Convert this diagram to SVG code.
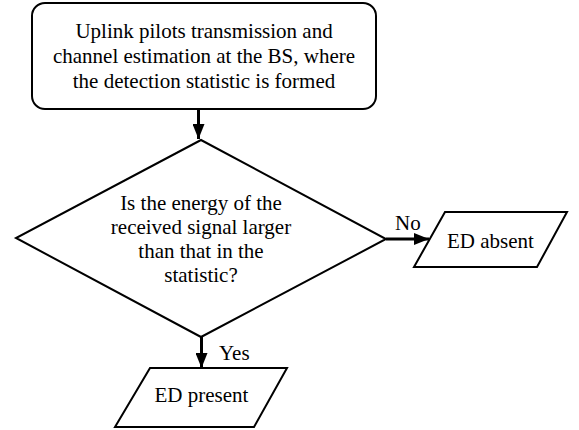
<svg xmlns="http://www.w3.org/2000/svg" width="579" height="430" viewBox="0 0 579 430">
  <style>
    .shape { fill: #ffffff; stroke: #000000; stroke-width: 2; stroke-linejoin: miter; }
    .label { font-family: "Liberation Serif", "Times New Roman", "DejaVu Serif", serif; font-size: 21px; fill: #000000; text-anchor: middle; }
    .edge-label { font-family: "Liberation Serif", "Times New Roman", "DejaVu Serif", serif; font-size: 21px; fill: #000000; }
    .edge { fill: none; stroke: #000000; stroke-width: 3; }
  </style>
  <defs>
    <marker id="arrow" markerWidth="5" markerHeight="4" refX="5" refY="2" orient="auto" markerUnits="strokeWidth">
      <path d="M0,0 L5,2 L0,4 Z" fill="#000000"/>
    </marker>
  </defs>
  <rect width="579" height="430" fill="#ffffff"/>

  <!-- flow arrows and branch labels -->
  <g id="connectors">
    <line class="edge" x1="198.5" y1="110" x2="198.5" y2="139" marker-end="url(#arrow)"/>
    <line class="edge" x1="386" y1="239" x2="429" y2="239" marker-end="url(#arrow)"/>
    <line class="edge" x1="201.5" y1="337" x2="201.5" y2="368" marker-end="url(#arrow)"/>
    <text class="edge-label" x="395" y="230">No</text>
    <text class="edge-label" x="219" y="360">Yes</text>
  </g>

  <g id="uplink">
    <rect class="shape" x="32" y="3" width="344" height="106" rx="13" ry="13"/>
    <text class="label" x="204" y="38">Uplink pilots transmission and</text>
    <text class="label" x="204" y="63">channel estimation at the BS, where</text>
    <text class="label" x="204" y="88">the detection statistic is formed</text>
  </g>

  <g id="decision">
    <polygon class="shape" points="201,140 386,239 201,337 16,238"/>
    <text class="label" x="201" y="210">Is the energy of the</text>
    <text class="label" x="201" y="234">received signal larger</text>
    <text class="label" x="201" y="258">than that in the</text>
    <text class="label" x="201" y="282">statistic?</text>
  </g>

  <g id="ed-absent">
    <polygon class="shape" points="445,212 567,212 537,267 414,267"/>
    <text class="label" x="490.5" y="248">ED absent</text>
  </g>

  <g id="ed-present">
    <polygon class="shape" points="150,368 287,368 254,427 115,427"/>
    <text class="label" x="201.5" y="402">ED present</text>
  </g>
</svg>
